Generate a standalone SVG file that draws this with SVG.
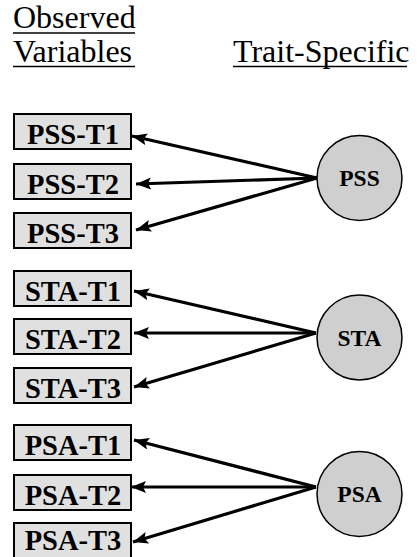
<svg xmlns="http://www.w3.org/2000/svg" width="417" height="557" viewBox="0 0 417 557">
<style>
.hdr{font-family:"Liberation Serif","Times New Roman",serif;font-size:32px;fill:#000}
.ul{stroke:#000;stroke-width:1.5}
.box rect{fill:#e0e0e0;stroke:#000;stroke-width:2}
.box text{font-family:"Liberation Serif","Times New Roman",serif;font-size:28.5px;font-weight:bold;text-anchor:middle;fill:#000}
.lat circle{fill:#cfcfcf;stroke:#000;stroke-width:1.5}
.lat text{font-family:"Liberation Serif","Times New Roman",serif;font-size:23.5px;font-weight:bold;text-anchor:middle;fill:#000}
.conn line{stroke:#000;stroke-width:3.2;marker-end:url(#ah)}
</style>
<defs>
<marker id="ah" markerUnits="userSpaceOnUse" markerWidth="18" markerHeight="14" refX="15" refY="6" orient="auto">
<path d="M0,0 L15,6 L0,12 L3,6 z" fill="#000"/>
</marker>
</defs>
<rect width="417" height="557" fill="#fff"/>
<g id="headers">
<text class="hdr" x="13" y="28">Observed</text>
<line class="ul" x1="13" y1="33" x2="135" y2="33"/>
<text class="hdr" x="13" y="61.5">Variables</text>
<line class="ul" x1="13" y1="66.5" x2="135" y2="66.5"/>
<text class="hdr" x="233" y="61.5">Trait-Specific</text>
<line class="ul" x1="233" y1="66.5" x2="407" y2="66.5"/>
</g>
<g id="connectors" class="conn">
<line x1="317" y1="178" x2="132" y2="136"/>
<line x1="317" y1="178" x2="136" y2="184"/>
<line x1="317" y1="178" x2="136" y2="230"/>
<line x1="316" y1="333" x2="134" y2="291"/>
<line x1="316" y1="333" x2="134" y2="333"/>
<line x1="316" y1="333" x2="134" y2="387"/>
<line x1="316" y1="487" x2="134" y2="440"/>
<line x1="316" y1="487" x2="131" y2="487"/>
<line x1="316" y1="487" x2="133" y2="542"/>
</g>
<g id="PSS-T1" class="box"><rect x="14" y="114" width="117" height="35"/><text x="73" y="144">PSS-T1</text></g>
<g id="PSS-T2" class="box"><rect x="14" y="164" width="117" height="35"/><text x="73" y="194">PSS-T2</text></g>
<g id="PSS-T3" class="box"><rect x="14" y="213" width="117" height="35"/><text x="73" y="243">PSS-T3</text></g>
<g id="STA-T1" class="box"><rect x="14" y="271" width="117" height="35"/><text x="73" y="301">STA-T1</text></g>
<g id="STA-T2" class="box"><rect x="14" y="319" width="117" height="35"/><text x="73" y="349">STA-T2</text></g>
<g id="STA-T3" class="box"><rect x="14" y="368" width="117" height="35"/><text x="73" y="398">STA-T3</text></g>
<g id="PSA-T1" class="box"><rect x="14" y="425" width="117" height="35"/><text x="73" y="455">PSA-T1</text></g>
<g id="PSA-T2" class="box"><rect x="14" y="475" width="117" height="35"/><text x="73" y="505">PSA-T2</text></g>
<g id="PSA-T3" class="box"><rect x="14" y="523" width="117" height="35"/><text x="73" y="550">PSA-T3</text></g>
<g id="PSS" class="lat"><circle cx="359.5" cy="178" r="42.5"/><text x="359.5" y="186">PSS</text></g>
<g id="STA" class="lat"><circle cx="359.5" cy="337.5" r="42.5"/><text x="359.5" y="345.5">STA</text></g>
<g id="PSA" class="lat"><circle cx="359.5" cy="494" r="42.5"/><text x="359.5" y="502">PSA</text></g>
</svg>
